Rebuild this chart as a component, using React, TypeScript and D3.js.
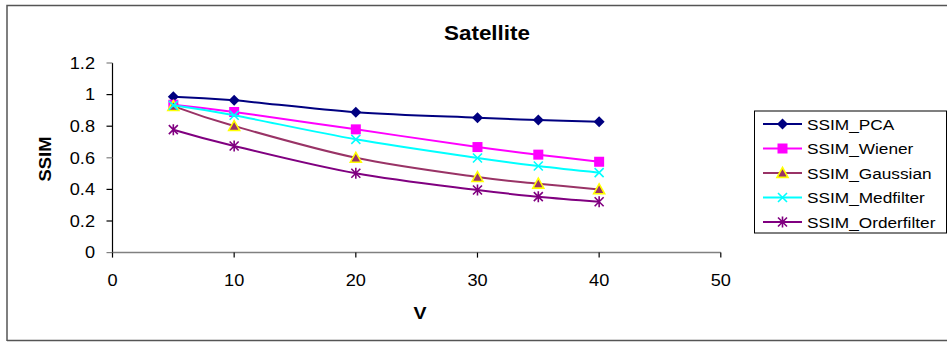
import React from "react";
import * as d3 from "d3";

const xValues = [5, 10, 20, 30, 35, 40];
const seriesNames = ["SSIM_PCA", "SSIM_Wiener", "SSIM_Gaussian", "SSIM_Medfilter", "SSIM_Orderfilter"];
const pcaValues = [0.987, 0.964, 0.888, 0.854, 0.839, 0.828];
const wienerValues = [0.936, 0.89, 0.78, 0.668, 0.62, 0.575];
const gaussianValues = [0.927, 0.801, 0.6, 0.478, 0.436, 0.4];
const medfilterValues = [0.932, 0.869, 0.717, 0.599, 0.548, 0.506];
const orderfilterValues = [0.778, 0.675, 0.502, 0.396, 0.354, 0.322];
const xTicks = [0, 10, 20, 30, 40, 50];
const yTicks = [0, 0.2, 0.4, 0.6, 0.8, 1, 1.2];

const seriesStyles = [
  { line: "#000080", fill: "#000080", stroke: "none", shape: "diamond" },
  { line: "#FF00FF", fill: "#FF00FF", stroke: "none", shape: "square" },
  { line: "#993366", fill: "#993366", stroke: "#FFFF00", shape: "triangle" },
  { line: "#00FFFF", fill: "none", stroke: "#00FFFF", shape: "x" },
  { line: "#800080", fill: "none", stroke: "#800080", shape: "star" },
];

const allValues = [pcaValues, wienerValues, gaussianValues, medfilterValues, orderfilterValues];

const FONT = "Liberation Sans, Arial, sans-serif";
const SX = 1.15;

function Txt({ x, y, size, anchor = "start", bold = false, rotate = 0, children }: any) {
  return (
    <text
      transform={`translate(${x},${y}) rotate(${rotate}) scale(${SX},1)`}
      fontSize={size}
      fontFamily={FONT}
      fontWeight={bold ? "bold" : "normal"}
      textAnchor={anchor}
      fill="#000"
    >
      {children}
    </text>
  );
}

function Marker({ shape, x, y, fill, stroke }: any) {
  if (shape === "diamond") {
    const r = 5.5;
    return <path d={`M${x},${y - r}L${x + r},${y}L${x},${y + r}L${x - r},${y}Z`} fill={fill} />;
  }
  if (shape === "square") {
    const r = 5;
    return <rect x={x - r} y={y - r} width={2 * r} height={2 * r} fill={fill} />;
  }
  if (shape === "triangle") {
    const r = 5.5;
    return (
      <path
        d={`M${x},${y - r}L${x + r},${y + r * 0.8}L${x - r},${y + r * 0.8}Z`}
        fill={fill}
        stroke={stroke}
        strokeWidth={1.6}
      />
    );
  }
  if (shape === "x") {
    const r = 4.5;
    return (
      <path d={`M${x - r},${y - r}L${x + r},${y + r}M${x - r},${y + r}L${x + r},${y - r}`} stroke={stroke} strokeWidth={1.6} fill="none" />
    );
  }
  const r = 4.5;
  return (
    <path
      d={`M${x - r},${y - r}L${x + r},${y + r}M${x - r},${y + r}L${x + r},${y - r}M${x},${y - r - 1}L${x},${y + r + 1}`}
      stroke={stroke}
      strokeWidth={1.6}
      fill="none"
    />
  );
}

export default function App() {
  const x = d3.scaleLinear().domain([0, 50]).range([112.5, 720.8]);
  const y = d3.scaleLinear().domain([0, 1.2]).range([252.6, 63]);
  const line = d3
    .line<[number, number]>()
    .x((d) => x(d[0]))
    .y((d) => y(d[1]))
    .curve(d3.curveCardinal.tension(0));

  const legendY0 = 124;
  const legendStep = 24.5;

  return (
    <svg width={947} height={343} style={{ position: "absolute", left: 0, top: 0, background: "#fff" }}>
      <rect x={0} y={0} width={947} height={343} fill="#fff" />
      {/* outer frame */}
      <path d="M7,341V5.5H947" fill="none" stroke="#555" strokeWidth={1.5} />
      <path d="M7,340.5H947" fill="none" stroke="#555" strokeWidth={1.5} />

      <Txt x={487} y={40} size={19.5} anchor="middle" bold>
        Satellite
      </Txt>

      {/* y axis */}
      <line x1={x(0)} x2={x(0)} y1={y(1.2)} y2={y(0)} stroke="#000" strokeWidth={1.2} />
      {yTicks.map((t) => (
        <g key={t}>
          <line x1={x(0) - 6} x2={x(0)} y1={y(t)} y2={y(t)} stroke={t === 0 || t === 0.6 || t === 1.2 ? "#808080" : "#000"} strokeWidth={1.2} />
          <Txt x={95} y={y(t) + 5.8} size={15.8} anchor="end">
            {String(t)}
          </Txt>
        </g>
      ))}
      {/* x axis */}
      <line x1={x(0)} x2={x(50)} y1={y(0)} y2={y(0)} stroke="#808080" strokeWidth={1.5} />
      {xTicks.map((t) => (
        <g key={t}>
          <line x1={x(t)} x2={x(t)} y1={y(0)} y2={y(0) + 5} stroke="#000" strokeWidth={1.2} />
          <Txt x={x(t)} y={285.5} size={15.8} anchor="middle">
            {String(t)}
          </Txt>
        </g>
      ))}

      <Txt x={420} y={319} size={17} anchor="middle" bold>
        V
      </Txt>
      <Txt x={51} y={159} size={16} anchor="middle" bold rotate={-90}>
        SSIM
      </Txt>

      {/* series */}
      {allValues.map((vals, i) => {
        const st = seriesStyles[i];
        const pts: [number, number][] = xValues.map((xv, j) => [xv, vals[j]]);
        return (
          <g key={i}>
            <path d={line(pts) || ""} fill="none" stroke={st.line} strokeWidth={2} />
            {pts.map((p, j) => (
              <Marker key={j} shape={st.shape} x={x(p[0])} y={y(p[1])} fill={st.fill} stroke={st.stroke} />
            ))}
          </g>
        );
      })}

      {/* legend */}
      <rect x={754.5} y={111} width={192} height={122} fill="#fff" stroke="#000" strokeWidth={1} />
      {seriesNames.map((name, i) => {
        const st = seriesStyles[i];
        const ly = legendY0 + i * legendStep;
        return (
          <g key={name}>
            <line x1={763} x2={802} y1={ly} y2={ly} stroke={st.line} strokeWidth={2} />
            <Marker shape={st.shape} x={782.5} y={ly} fill={st.fill} stroke={st.stroke} />
            <Txt x={807} y={ly + 5.7} size={15}>
              {name}
            </Txt>
          </g>
        );
      })}
    </svg>
  );
}
